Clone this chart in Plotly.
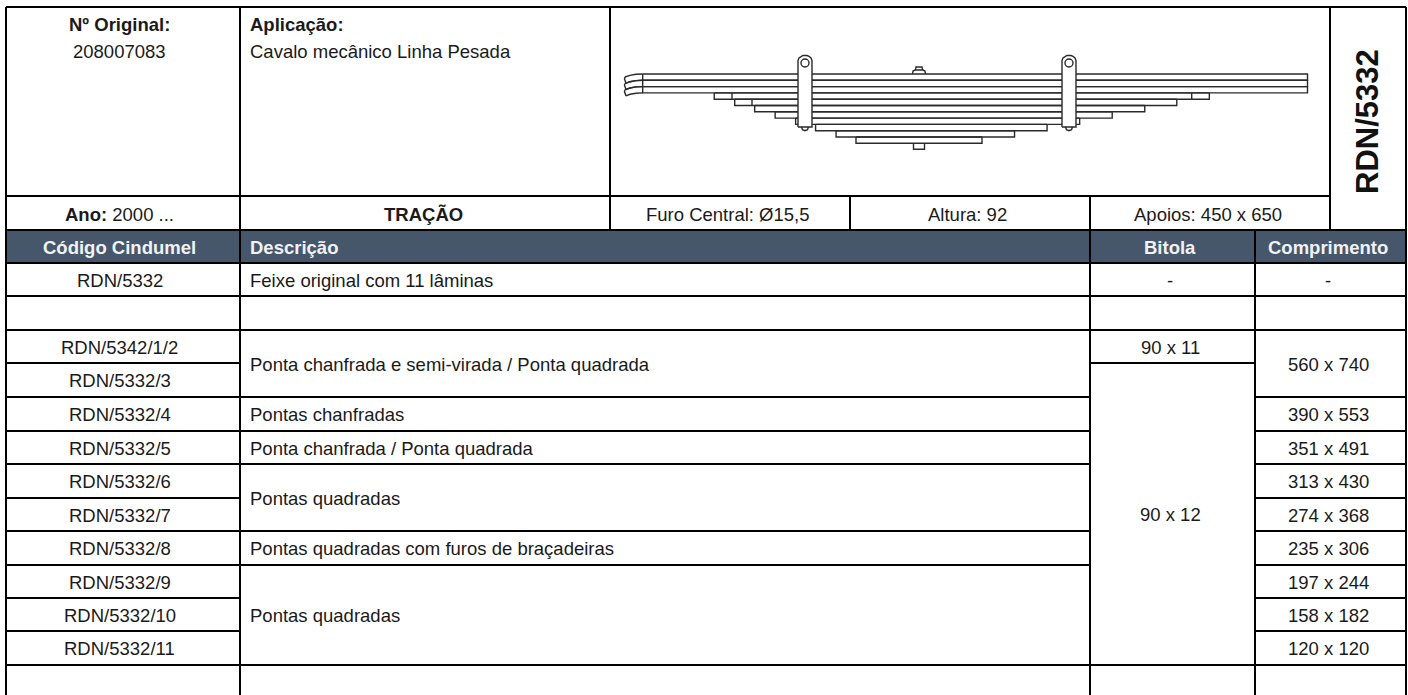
import plotly.graph_objects as go

# ---------- table content ----------
orig_label = "Nº Original:"
orig_value = "208007083"
app_label = "Aplicação:"
app_value = "Cavalo mecânico Linha Pesada"
year_label = "Ano:"
year_value = "2000 ..."
axle = "TRAÇÃO"
center_hole = "Furo Central: Ø15,5"
height_txt = "Altura: 92"
supports = "Apoios: 450 x 650"
ref_code = "RDN/5332"
headers = ["Código Cindumel", "Descrição", "Bitola", "Comprimento"]

codes = ["RDN/5332", "", "RDN/5342/1/2", "RDN/5332/3", "RDN/5332/4", "RDN/5332/5", "RDN/5332/6",
         "RDN/5332/7", "RDN/5332/8", "RDN/5332/9", "RDN/5332/10", "RDN/5332/11", ""]
descriptions = ["Feixe original com 11 lâminas", "", "Ponta chanfrada e semi-virada / Ponta quadrada",
                "Pontas chanfradas", "Ponta chanfrada / Ponta quadrada", "Pontas quadradas",
                "Pontas quadradas com furos de braçadeiras", "Pontas quadradas", ""]
description_spans = [1, 1, 2, 1, 1, 2, 1, 3, 1]
gauges = ["-", "", "90 x 11", "90 x 12", ""]
gauge_spans = [1, 1, 1, 9, 1]
lengths = ["-", "", "560 x 740", "390 x 553", "351 x 491", "313 x 430", "274 x 368",
           "235 x 306", "197 x 244", "158 x 182", "120 x 120", ""]
length_spans = [1, 1, 2, 1, 1, 1, 1, 1, 1, 1, 1, 1]

# leaf lengths (left, right) of the spring: three main leaves, then one per row
main_leaves = 3
leaves = [(560, 740), (560, 740), (560, 740), (390, 553), (351, 491), (313, 430), (274, 368),
          (235, 306), (197, 244), (158, 182), (120, 120)]

# ---------- page geometry ----------
X_L, X_CODE, X_PIC, X_HOLE, X_SUP, X_DESC, X_GAUGE, X_SIDE, X_R = 6, 240, 610, 850, 1090, 1090, 1255, 1330, 1406
Y_TOP, Y_PIC, Y_INFO, Y_HEAD = 7, 196, 230, 263
Y_END = 695
rows_y = [263, 296, 330, 363, 397, 431, 464, 498, 531, 565, 598, 631, 665, Y_END]
TXT = "#1a1a1a"
HEAD_TXT = "#f0f2f5"
FONT = "Liberation Sans"
FS = 18.5
GRID_W = 2

fig = go.Figure()


def seg(xs, ys, w=GRID_W, c="black"):
    fig.add_trace(go.Scatter(x=xs, y=ys, mode="lines", line=dict(color=c, width=w), hoverinfo="skip", showlegend=False))


def txt(x, y, s, size=FS, bold=False, anchor="center", color=TXT, angle=0):
    if bold:
        s = f"<b>{s}</b>"
    fig.add_annotation(x=x, y=y, text=s, showarrow=False, xanchor=anchor, yanchor="middle", textangle=angle,
                       font=dict(family=FONT, size=size, color=color), xref="x", yref="y", borderpad=0, borderwidth=0)


# header band
fig.add_trace(go.Scatter(x=[X_L, X_R, X_R, X_L, X_L], y=[Y_INFO, Y_INFO, Y_HEAD, Y_HEAD, Y_INFO], mode="lines",
                         fill="toself", fillcolor="#46566b", line=dict(width=0), hoverinfo="skip", showlegend=False))

# frame lines of the top block
seg([X_L, X_R], [Y_TOP, Y_TOP])
seg([X_L, X_SIDE], [Y_PIC, Y_PIC])
seg([X_L, X_R], [Y_INFO, Y_INFO])
seg([X_L, X_R], [Y_HEAD, Y_HEAD])
seg([X_L, X_L], [Y_TOP, Y_END])
seg([X_R, X_R], [Y_TOP, Y_END])
seg([X_CODE, X_CODE], [Y_TOP, Y_END])
seg([X_PIC, X_PIC], [Y_TOP, Y_INFO])
seg([X_HOLE, X_HOLE], [Y_PIC, Y_INFO])
seg([X_SUP, X_SUP], [Y_PIC, Y_INFO])
seg([X_SIDE, X_SIDE], [Y_TOP, Y_INFO])
seg([X_DESC, X_DESC], [Y_INFO, Y_END])
seg([X_GAUGE, X_GAUGE], [Y_INFO, Y_END])


def column(x0, x1, spans, labels, tx, anchor):
    pos = 0
    for lab, n in zip(labels, spans):
        y0 = rows_y[pos]
        pos += n
        y1 = rows_y[pos]
        if lab:
            txt(tx, (y0 + y1) / 2 + 0.7, lab, anchor=anchor)
        if pos < 13:
            seg([x0, x1], [y1, y1])


column(X_L, X_CODE, [1] * 13, codes, 119.5, "center")
column(X_CODE, X_DESC, description_spans, descriptions, 250, "left")
column(X_DESC, X_GAUGE, gauge_spans, gauges, 1170, "center")
column(X_GAUGE, X_R, length_spans, lengths, 1328, "center")

# top block texts
txt(119.5, 24.5, orig_label, bold=True)
txt(119.5, 51, orig_value)
txt(250, 24.5, app_label, bold=True, anchor="left")
txt(250, 51, app_value, anchor="left")
txt(119, 214, f"<b>{year_label}</b> {year_value}")
txt(423, 214, axle, bold=True)
txt(728, 214, center_hole)
txt(967.5, 214, height_txt)
txt(1208, 214, supports)
txt(1367, 122, ref_code, size=31, bold=True, angle=-90, color="#111111")
txt(119.5, 247, headers[0], bold=True, color=HEAD_TXT)
txt(250, 247, headers[1], bold=True, anchor="left", color=HEAD_TXT)
txt(1170, 247, headers[2], bold=True, color=HEAD_TXT)
txt(1328, 247, headers[3], bold=True, color=HEAD_TXT)

# ---------- leaf spring drawing ----------
CENTER, K = 919, 0.525
Y0 = 74
LEAF_H = 6.3
DRAW = "#2a2a2a"
LW = 1.4
EYE_EDGE = 642.7

for i, (a, b) in enumerate(leaves):
    ytop = Y0 + LEAF_H * i
    ybot = ytop + LEAF_H
    xl, xr = CENTER - a * K, CENTER + b * K
    if i < main_leaves:
        # main leaves: straight up to the left break line, then a small curved tip
        seg([EYE_EDGE, xr, xr, EYE_EDGE, EYE_EDGE], [ytop, ytop, ybot, ybot, ytop], LW, DRAW)
        seg([EYE_EDGE, 636, 630, xl], [ytop, ytop + 0.3, ytop + 1.4, ytop + 3], LW, DRAW)
        seg([EYE_EDGE, 636, 630, xl + 1], [ybot, ybot + 0.3, ybot + 1.4, ybot + 3], LW, DRAW)
        seg([xl, xl - 0.5, xl + 1], [ytop + 3, ytop + 5, ybot + 3], LW, DRAW)
    else:
        seg([xl, xl, xr, xr], [ytop, ybot, ybot, ytop], LW, DRAW)
        seg([xl, xr], [ytop, ytop], LW, DRAW)

# short closing ticks seen on the two upper stepped leaves
for tx, lvl in ((732, 3), (752, 4), (1191.7, 3)):
    seg([tx, tx], [Y0 + LEAF_H * lvl, Y0 + LEAF_H * (lvl + 1)], LW, DRAW)

# nut and bolt on the centre
bolt_y_top = Y0
bolt_y_bot = Y0 + LEAF_H * len(leaves)
seg([912.5, 913, 915, 923, 925, 925.5], [bolt_y_top, bolt_y_top - 3, bolt_y_top - 4, bolt_y_top - 4, bolt_y_top - 3, bolt_y_top], LW, DRAW)
seg([915.5, 916, 922, 922.5], [bolt_y_top - 4, bolt_y_top - 7, bolt_y_top - 7, bolt_y_top - 4], LW, DRAW)
seg([913.5, 913.5, 924.5, 924.5], [bolt_y_bot, bolt_y_bot + 6, bolt_y_bot + 6, bolt_y_bot], LW, DRAW)

# two clamps
for cx in (805, 1069):
    w = 7
    top, bot = 55.5, 127
    xs = [cx - w, cx - w, cx - w + 1, cx - w + 3, cx - 2, cx + 2, cx + w - 3, cx + w - 1, cx + w, cx + w, cx - w]
    ys = [bot, top + 5, top + 2.5, top + 0.8, top, top, top + 0.8, top + 2.5, top + 5, bot, bot]
    fig.add_trace(go.Scatter(x=xs, y=ys, mode="lines", fill="toself", fillcolor="white",
                             line=dict(color=DRAW, width=LW), hoverinfo="skip", showlegend=False))
    seg([cx - 3.5, cx - 2.5, cx, cx + 2.5, cx + 3.5], [bot, bot + 2.7, bot + 3.7, bot + 2.7, bot], LW, DRAW)
    fig.add_trace(go.Scatter(x=[cx], y=[63], mode="markers", marker=dict(size=8, color="white", line=dict(color=DRAW, width=LW)),
                             hoverinfo="skip", showlegend=False))

fig.update_layout(
    width=1408, height=695, margin=dict(l=0, r=0, t=0, b=0), paper_bgcolor="white", plot_bgcolor="white",
    showlegend=False,
    xaxis=dict(range=[0, 1408], visible=False, fixedrange=True),
    yaxis=dict(range=[695, 0], visible=False, fixedrange=True),
)
fig.write_html("out.html", config={"displayModeBar": False},
               post_script="document.body.style.margin='0';document.documentElement.style.overflow='hidden';")
